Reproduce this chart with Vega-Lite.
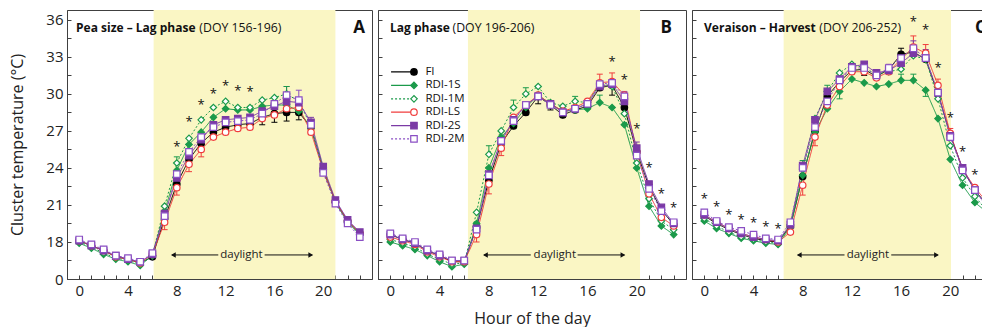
{
"$schema":"https://vega.github.io/schema/vega-lite/v6.json",
"padding":{"left":9,"top":9,"right":0,"bottom":0},
"spacing":4,
"config":{"font":"Open Sans","legend":{"disable":true},"view":{"stroke":"#404040","strokeWidth":1},
"axis":{"domainColor":"#404040","tickColor":"#404040","labelColor":"#222","titleColor":"#222","labelFontSize":15,"titleFontSize":16,"titleFontWeight":"normal","grid":false,"labelFont":"Open Sans","titleFont":"Open Sans","labelOverlap":false,"labelFlush":false}},
"datasets":{
"temps":[
{"p":"A","h":0,"s":"FI","t":18.1},{"p":"A","h":0,"s":"RDI-1S","t":17.9},{"p":"A","h":0,"s":"RDI-1M","t":18.0},{"p":"A","h":0,"s":"RDI-LS","t":18.1},{"p":"A","h":0,"s":"RDI-2S","t":18.1},{"p":"A","h":0,"s":"RDI-2M","t":18.2},
{"p":"A","h":1,"s":"FI","t":17.7},{"p":"A","h":1,"s":"RDI-1S","t":17.5},{"p":"A","h":1,"s":"RDI-1M","t":17.6},{"p":"A","h":1,"s":"RDI-LS","t":17.7},{"p":"A","h":1,"s":"RDI-2S","t":17.7},{"p":"A","h":1,"s":"RDI-2M","t":17.8},
{"p":"A","h":2,"s":"FI","t":17.3},{"p":"A","h":2,"s":"RDI-1S","t":17.0},{"p":"A","h":2,"s":"RDI-1M","t":17.1},{"p":"A","h":2,"s":"RDI-LS","t":17.3},{"p":"A","h":2,"s":"RDI-2S","t":17.3},{"p":"A","h":2,"s":"RDI-2M","t":17.4},
{"p":"A","h":3,"s":"FI","t":16.8},{"p":"A","h":3,"s":"RDI-1S","t":16.6},{"p":"A","h":3,"s":"RDI-1M","t":16.7},{"p":"A","h":3,"s":"RDI-LS","t":16.8},{"p":"A","h":3,"s":"RDI-2S","t":16.9},{"p":"A","h":3,"s":"RDI-2M","t":16.9},
{"p":"A","h":4,"s":"FI","t":16.6},{"p":"A","h":4,"s":"RDI-1S","t":16.4},{"p":"A","h":4,"s":"RDI-1M","t":16.5},{"p":"A","h":4,"s":"RDI-LS","t":16.6},{"p":"A","h":4,"s":"RDI-2S","t":16.6},{"p":"A","h":4,"s":"RDI-2M","t":16.7},
{"p":"A","h":5,"s":"FI","t":16.3},{"p":"A","h":5,"s":"RDI-1S","t":16.1},{"p":"A","h":5,"s":"RDI-1M","t":16.2},{"p":"A","h":5,"s":"RDI-LS","t":16.3},{"p":"A","h":5,"s":"RDI-2S","t":16.4},{"p":"A","h":5,"s":"RDI-2M","t":16.4},
{"p":"A","h":6,"s":"FI","t":16.8},{"p":"A","h":6,"s":"RDI-1S","t":16.9},{"p":"A","h":6,"s":"RDI-1M","t":16.9},{"p":"A","h":6,"s":"RDI-LS","t":17.0},{"p":"A","h":6,"s":"RDI-2S","t":17.0},{"p":"A","h":6,"s":"RDI-2M","t":17.1},
{"p":"A","h":7,"s":"FI","t":19.9},{"p":"A","h":7,"s":"RDI-1S","t":20.5},{"p":"A","h":7,"s":"RDI-1M","t":20.9},{"p":"A","h":7,"s":"RDI-LS","t":19.6},{"p":"A","h":7,"s":"RDI-2S","t":20.3},{"p":"A","h":7,"s":"RDI-2M","t":20.1},
{"p":"A","h":8,"s":"FI","t":22.7},{"p":"A","h":8,"s":"RDI-1S","t":23.8},{"p":"A","h":8,"s":"RDI-1M","t":24.4},{"p":"A","h":8,"s":"RDI-LS","t":22.4},{"p":"A","h":8,"s":"RDI-2S","t":23.2},{"p":"A","h":8,"s":"RDI-2M","t":23.5},
{"p":"A","h":9,"s":"FI","t":24.7},{"p":"A","h":9,"s":"RDI-1S","t":25.9},{"p":"A","h":9,"s":"RDI-1M","t":26.4},{"p":"A","h":9,"s":"RDI-LS","t":24.3},{"p":"A","h":9,"s":"RDI-2S","t":25.0},{"p":"A","h":9,"s":"RDI-2M","t":25.3},
{"p":"A","h":10,"s":"FI","t":26.0},{"p":"A","h":10,"s":"RDI-1S","t":26.9},{"p":"A","h":10,"s":"RDI-1M","t":27.9},{"p":"A","h":10,"s":"RDI-LS","t":25.5},{"p":"A","h":10,"s":"RDI-2S","t":26.3},{"p":"A","h":10,"s":"RDI-2M","t":26.5},
{"p":"A","h":11,"s":"FI","t":26.9},{"p":"A","h":11,"s":"RDI-1S","t":28.1},{"p":"A","h":11,"s":"RDI-1M","t":28.9},{"p":"A","h":11,"s":"RDI-LS","t":26.5},{"p":"A","h":11,"s":"RDI-2S","t":27.5},{"p":"A","h":11,"s":"RDI-2M","t":27.3},
{"p":"A","h":12,"s":"FI","t":27.3},{"p":"A","h":12,"s":"RDI-1S","t":28.8},{"p":"A","h":12,"s":"RDI-1M","t":29.4},{"p":"A","h":12,"s":"RDI-LS","t":26.9},{"p":"A","h":12,"s":"RDI-2S","t":27.9},{"p":"A","h":12,"s":"RDI-2M","t":27.7},
{"p":"A","h":13,"s":"FI","t":27.5},{"p":"A","h":13,"s":"RDI-1S","t":28.7},{"p":"A","h":13,"s":"RDI-1M","t":28.9},{"p":"A","h":13,"s":"RDI-LS","t":27.2},{"p":"A","h":13,"s":"RDI-2S","t":28.0},{"p":"A","h":13,"s":"RDI-2M","t":27.8},
{"p":"A","h":14,"s":"FI","t":27.6},{"p":"A","h":14,"s":"RDI-1S","t":28.7},{"p":"A","h":14,"s":"RDI-1M","t":28.9},{"p":"A","h":14,"s":"RDI-LS","t":27.3},{"p":"A","h":14,"s":"RDI-2S","t":28.1},{"p":"A","h":14,"s":"RDI-2M","t":27.9},
{"p":"A","h":15,"s":"FI","t":28.1},{"p":"A","h":15,"s":"RDI-1S","t":29.0},{"p":"A","h":15,"s":"RDI-1M","t":29.5},{"p":"A","h":15,"s":"RDI-LS","t":28.0},{"p":"A","h":15,"s":"RDI-2S","t":28.6},{"p":"A","h":15,"s":"RDI-2M","t":28.4},
{"p":"A","h":16,"s":"FI","t":28.4},{"p":"A","h":16,"s":"RDI-1S","t":29.1},{"p":"A","h":16,"s":"RDI-1M","t":29.7},{"p":"A","h":16,"s":"RDI-LS","t":28.3},{"p":"A","h":16,"s":"RDI-2S","t":29.0},{"p":"A","h":16,"s":"RDI-2M","t":29.2},
{"p":"A","h":17,"s":"FI","t":28.5},{"p":"A","h":17,"s":"RDI-1S","t":29.1},{"p":"A","h":17,"s":"RDI-1M","t":30.0},{"p":"A","h":17,"s":"RDI-LS","t":28.8},{"p":"A","h":17,"s":"RDI-2S","t":29.4},{"p":"A","h":17,"s":"RDI-2M","t":29.9},
{"p":"A","h":18,"s":"FI","t":28.5},{"p":"A","h":18,"s":"RDI-1S","t":28.6},{"p":"A","h":18,"s":"RDI-1M","t":29.4},{"p":"A","h":18,"s":"RDI-LS","t":28.9},{"p":"A","h":18,"s":"RDI-2S","t":29.3},{"p":"A","h":18,"s":"RDI-2M","t":29.5},
{"p":"A","h":19,"s":"FI","t":27.3},{"p":"A","h":19,"s":"RDI-1S","t":27.3},{"p":"A","h":19,"s":"RDI-1M","t":27.4},{"p":"A","h":19,"s":"RDI-LS","t":26.9},{"p":"A","h":19,"s":"RDI-2S","t":27.7},{"p":"A","h":19,"s":"RDI-2M","t":27.5},
{"p":"A","h":20,"s":"FI","t":23.8},{"p":"A","h":20,"s":"RDI-1S","t":23.9},{"p":"A","h":20,"s":"RDI-1M","t":24.0},{"p":"A","h":20,"s":"RDI-LS","t":23.8},{"p":"A","h":20,"s":"RDI-2S","t":24.1},{"p":"A","h":20,"s":"RDI-2M","t":23.6},
{"p":"A","h":21,"s":"FI","t":21.3},{"p":"A","h":21,"s":"RDI-1S","t":21.2},{"p":"A","h":21,"s":"RDI-1M","t":21.2},{"p":"A","h":21,"s":"RDI-LS","t":21.3},{"p":"A","h":21,"s":"RDI-2S","t":21.4},{"p":"A","h":21,"s":"RDI-2M","t":21.1},
{"p":"A","h":22,"s":"FI","t":19.7},{"p":"A","h":22,"s":"RDI-1S","t":19.6},{"p":"A","h":22,"s":"RDI-1M","t":19.7},{"p":"A","h":22,"s":"RDI-LS","t":19.7},{"p":"A","h":22,"s":"RDI-2S","t":19.8},{"p":"A","h":22,"s":"RDI-2M","t":19.5},
{"p":"A","h":23,"s":"FI","t":18.7},{"p":"A","h":23,"s":"RDI-1S","t":18.6},{"p":"A","h":23,"s":"RDI-1M","t":18.6},{"p":"A","h":23,"s":"RDI-LS","t":18.7},{"p":"A","h":23,"s":"RDI-2S","t":18.8},{"p":"A","h":23,"s":"RDI-2M","t":18.4},
{"p":"B","h":0,"s":"FI","t":18.6},{"p":"B","h":0,"s":"RDI-1S","t":18.0},{"p":"B","h":0,"s":"RDI-1M","t":18.2},{"p":"B","h":0,"s":"RDI-LS","t":18.4},{"p":"B","h":0,"s":"RDI-2S","t":18.6},{"p":"B","h":0,"s":"RDI-2M","t":18.7},
{"p":"B","h":1,"s":"FI","t":18.2},{"p":"B","h":1,"s":"RDI-1S","t":17.7},{"p":"B","h":1,"s":"RDI-1M","t":17.9},{"p":"B","h":1,"s":"RDI-LS","t":18.1},{"p":"B","h":1,"s":"RDI-2S","t":18.2},{"p":"B","h":1,"s":"RDI-2M","t":18.3},
{"p":"B","h":2,"s":"FI","t":17.9},{"p":"B","h":2,"s":"RDI-1S","t":17.4},{"p":"B","h":2,"s":"RDI-1M","t":17.6},{"p":"B","h":2,"s":"RDI-LS","t":17.8},{"p":"B","h":2,"s":"RDI-2S","t":17.9},{"p":"B","h":2,"s":"RDI-2M","t":18.0},
{"p":"B","h":3,"s":"FI","t":17.3},{"p":"B","h":3,"s":"RDI-1S","t":16.9},{"p":"B","h":3,"s":"RDI-1M","t":17.0},{"p":"B","h":3,"s":"RDI-LS","t":17.2},{"p":"B","h":3,"s":"RDI-2S","t":17.3},{"p":"B","h":3,"s":"RDI-2M","t":17.4},
{"p":"B","h":4,"s":"FI","t":16.9},{"p":"B","h":4,"s":"RDI-1S","t":16.4},{"p":"B","h":4,"s":"RDI-1M","t":16.6},{"p":"B","h":4,"s":"RDI-LS","t":16.8},{"p":"B","h":4,"s":"RDI-2S","t":16.9},{"p":"B","h":4,"s":"RDI-2M","t":17.0},
{"p":"B","h":5,"s":"FI","t":16.4},{"p":"B","h":5,"s":"RDI-1S","t":16.0},{"p":"B","h":5,"s":"RDI-1M","t":16.2},{"p":"B","h":5,"s":"RDI-LS","t":16.4},{"p":"B","h":5,"s":"RDI-2S","t":16.5},{"p":"B","h":5,"s":"RDI-2M","t":16.5},
{"p":"B","h":6,"s":"FI","t":16.4},{"p":"B","h":6,"s":"RDI-1S","t":16.2},{"p":"B","h":6,"s":"RDI-1M","t":16.3},{"p":"B","h":6,"s":"RDI-LS","t":16.4},{"p":"B","h":6,"s":"RDI-2S","t":16.5},{"p":"B","h":6,"s":"RDI-2M","t":16.5},
{"p":"B","h":7,"s":"FI","t":19.2},{"p":"B","h":7,"s":"RDI-1S","t":19.5},{"p":"B","h":7,"s":"RDI-1M","t":20.4},{"p":"B","h":7,"s":"RDI-LS","t":18.6},{"p":"B","h":7,"s":"RDI-2S","t":19.1},{"p":"B","h":7,"s":"RDI-2M","t":19.0},
{"p":"B","h":8,"s":"FI","t":23.0},{"p":"B","h":8,"s":"RDI-1S","t":24.0},{"p":"B","h":8,"s":"RDI-1M","t":25.1},{"p":"B","h":8,"s":"RDI-LS","t":22.7},{"p":"B","h":8,"s":"RDI-2S","t":23.5},{"p":"B","h":8,"s":"RDI-2M","t":23.4},
{"p":"B","h":9,"s":"FI","t":26.0},{"p":"B","h":9,"s":"RDI-1S","t":26.5},{"p":"B","h":9,"s":"RDI-1M","t":27.0},{"p":"B","h":9,"s":"RDI-LS","t":25.6},{"p":"B","h":9,"s":"RDI-2S","t":26.2},{"p":"B","h":9,"s":"RDI-2M","t":26.2},
{"p":"B","h":10,"s":"FI","t":27.4},{"p":"B","h":10,"s":"RDI-1S","t":27.6},{"p":"B","h":10,"s":"RDI-1M","t":28.9},{"p":"B","h":10,"s":"RDI-LS","t":28.1},{"p":"B","h":10,"s":"RDI-2S","t":27.9},{"p":"B","h":10,"s":"RDI-2M","t":27.8},
{"p":"B","h":11,"s":"FI","t":28.5},{"p":"B","h":11,"s":"RDI-1S","t":28.9},{"p":"B","h":11,"s":"RDI-1M","t":30.0},{"p":"B","h":11,"s":"RDI-LS","t":29.1},{"p":"B","h":11,"s":"RDI-2S","t":29.1},{"p":"B","h":11,"s":"RDI-2M","t":29.1},
{"p":"B","h":12,"s":"FI","t":29.8},{"p":"B","h":12,"s":"RDI-1S","t":29.9},{"p":"B","h":12,"s":"RDI-1M","t":30.6},{"p":"B","h":12,"s":"RDI-LS","t":29.9},{"p":"B","h":12,"s":"RDI-2S","t":29.8},{"p":"B","h":12,"s":"RDI-2M","t":29.8},
{"p":"B","h":13,"s":"FI","t":29.1},{"p":"B","h":13,"s":"RDI-1S","t":29.2},{"p":"B","h":13,"s":"RDI-1M","t":29.3},{"p":"B","h":13,"s":"RDI-LS","t":29.2},{"p":"B","h":13,"s":"RDI-2S","t":29.2},{"p":"B","h":13,"s":"RDI-2M","t":29.1},
{"p":"B","h":14,"s":"FI","t":28.3},{"p":"B","h":14,"s":"RDI-1S","t":28.6},{"p":"B","h":14,"s":"RDI-1M","t":29.0},{"p":"B","h":14,"s":"RDI-LS","t":28.6},{"p":"B","h":14,"s":"RDI-2S","t":28.5},{"p":"B","h":14,"s":"RDI-2M","t":28.5},
{"p":"B","h":15,"s":"FI","t":28.7},{"p":"B","h":15,"s":"RDI-1S","t":28.7},{"p":"B","h":15,"s":"RDI-1M","t":29.4},{"p":"B","h":15,"s":"RDI-LS","t":28.9},{"p":"B","h":15,"s":"RDI-2S","t":28.8},{"p":"B","h":15,"s":"RDI-2M","t":28.8},
{"p":"B","h":16,"s":"FI","t":29.0},{"p":"B","h":16,"s":"RDI-1S","t":28.8},{"p":"B","h":16,"s":"RDI-1M","t":29.3},{"p":"B","h":16,"s":"RDI-LS","t":29.4},{"p":"B","h":16,"s":"RDI-2S","t":29.2},{"p":"B","h":16,"s":"RDI-2M","t":29.2},
{"p":"B","h":17,"s":"FI","t":30.5},{"p":"B","h":17,"s":"RDI-1S","t":29.3},{"p":"B","h":17,"s":"RDI-1M","t":30.8},{"p":"B","h":17,"s":"RDI-LS","t":30.9},{"p":"B","h":17,"s":"RDI-2S","t":30.6},{"p":"B","h":17,"s":"RDI-2M","t":30.8},
{"p":"B","h":18,"s":"FI","t":30.7},{"p":"B","h":18,"s":"RDI-1S","t":28.9},{"p":"B","h":18,"s":"RDI-1M","t":30.6},{"p":"B","h":18,"s":"RDI-LS","t":31.0},{"p":"B","h":18,"s":"RDI-2S","t":30.8},{"p":"B","h":18,"s":"RDI-2M","t":30.9},
{"p":"B","h":19,"s":"FI","t":28.9},{"p":"B","h":19,"s":"RDI-1S","t":27.5},{"p":"B","h":19,"s":"RDI-1M","t":28.4},{"p":"B","h":19,"s":"RDI-LS","t":29.9},{"p":"B","h":19,"s":"RDI-2S","t":29.4},{"p":"B","h":19,"s":"RDI-2M","t":29.8},
{"p":"B","h":20,"s":"FI","t":25.3},{"p":"B","h":20,"s":"RDI-1S","t":24.0},{"p":"B","h":20,"s":"RDI-1M","t":24.4},{"p":"B","h":20,"s":"RDI-LS","t":25.3},{"p":"B","h":20,"s":"RDI-2S","t":25.6},{"p":"B","h":20,"s":"RDI-2M","t":25.0},
{"p":"B","h":21,"s":"FI","t":22.5},{"p":"B","h":21,"s":"RDI-1S","t":20.9},{"p":"B","h":21,"s":"RDI-1M","t":21.5},{"p":"B","h":21,"s":"RDI-LS","t":21.9},{"p":"B","h":21,"s":"RDI-2S","t":22.7},{"p":"B","h":21,"s":"RDI-2M","t":22.3},
{"p":"B","h":22,"s":"FI","t":20.6},{"p":"B","h":22,"s":"RDI-1S","t":19.3},{"p":"B","h":22,"s":"RDI-1M","t":19.7},{"p":"B","h":22,"s":"RDI-LS","t":20.0},{"p":"B","h":22,"s":"RDI-2S","t":20.8},{"p":"B","h":22,"s":"RDI-2M","t":20.5},
{"p":"B","h":23,"s":"FI","t":19.4},{"p":"B","h":23,"s":"RDI-1S","t":18.6},{"p":"B","h":23,"s":"RDI-1M","t":19.0},{"p":"B","h":23,"s":"RDI-LS","t":19.3},{"p":"B","h":23,"s":"RDI-2S","t":19.5},{"p":"B","h":23,"s":"RDI-2M","t":19.6},
{"p":"C","h":0,"s":"FI","t":20.1},{"p":"C","h":0,"s":"RDI-1S","t":19.7},{"p":"C","h":0,"s":"RDI-1M","t":19.9},{"p":"C","h":0,"s":"RDI-LS","t":20.2},{"p":"C","h":0,"s":"RDI-2S","t":20.2},{"p":"C","h":0,"s":"RDI-2M","t":20.4},
{"p":"C","h":1,"s":"FI","t":19.5},{"p":"C","h":1,"s":"RDI-1S","t":19.1},{"p":"C","h":1,"s":"RDI-1M","t":19.3},{"p":"C","h":1,"s":"RDI-LS","t":19.6},{"p":"C","h":1,"s":"RDI-2S","t":19.6},{"p":"C","h":1,"s":"RDI-2M","t":19.7},
{"p":"C","h":2,"s":"FI","t":19.0},{"p":"C","h":2,"s":"RDI-1S","t":18.7},{"p":"C","h":2,"s":"RDI-1M","t":18.8},{"p":"C","h":2,"s":"RDI-LS","t":19.1},{"p":"C","h":2,"s":"RDI-2S","t":19.1},{"p":"C","h":2,"s":"RDI-2M","t":19.2},
{"p":"C","h":3,"s":"FI","t":18.6},{"p":"C","h":3,"s":"RDI-1S","t":18.3},{"p":"C","h":3,"s":"RDI-1M","t":18.4},{"p":"C","h":3,"s":"RDI-LS","t":18.7},{"p":"C","h":3,"s":"RDI-2S","t":18.7},{"p":"C","h":3,"s":"RDI-2M","t":18.9},
{"p":"C","h":4,"s":"FI","t":18.3},{"p":"C","h":4,"s":"RDI-1S","t":18.1},{"p":"C","h":4,"s":"RDI-1M","t":18.2},{"p":"C","h":4,"s":"RDI-LS","t":18.4},{"p":"C","h":4,"s":"RDI-2S","t":18.4},{"p":"C","h":4,"s":"RDI-2M","t":18.6},
{"p":"C","h":5,"s":"FI","t":18.1},{"p":"C","h":5,"s":"RDI-1S","t":17.9},{"p":"C","h":5,"s":"RDI-1M","t":18.0},{"p":"C","h":5,"s":"RDI-LS","t":18.2},{"p":"C","h":5,"s":"RDI-2S","t":18.2},{"p":"C","h":5,"s":"RDI-2M","t":18.3},
{"p":"C","h":6,"s":"FI","t":18.0},{"p":"C","h":6,"s":"RDI-1S","t":17.8},{"p":"C","h":6,"s":"RDI-1M","t":17.9},{"p":"C","h":6,"s":"RDI-LS","t":18.0},{"p":"C","h":6,"s":"RDI-2S","t":18.1},{"p":"C","h":6,"s":"RDI-2M","t":18.2},
{"p":"C","h":7,"s":"FI","t":19.3},{"p":"C","h":7,"s":"RDI-1S","t":19.2},{"p":"C","h":7,"s":"RDI-1M","t":19.4},{"p":"C","h":7,"s":"RDI-LS","t":18.8},{"p":"C","h":7,"s":"RDI-2S","t":19.4},{"p":"C","h":7,"s":"RDI-2M","t":19.6},
{"p":"C","h":8,"s":"FI","t":23.3},{"p":"C","h":8,"s":"RDI-1S","t":23.4},{"p":"C","h":8,"s":"RDI-1M","t":23.9},{"p":"C","h":8,"s":"RDI-LS","t":22.6},{"p":"C","h":8,"s":"RDI-2S","t":24.2},{"p":"C","h":8,"s":"RDI-2M","t":24.0},
{"p":"C","h":9,"s":"FI","t":27.0},{"p":"C","h":9,"s":"RDI-1S","t":26.9},{"p":"C","h":9,"s":"RDI-1M","t":28.0},{"p":"C","h":9,"s":"RDI-LS","t":26.5},{"p":"C","h":9,"s":"RDI-2S","t":27.9},{"p":"C","h":9,"s":"RDI-2M","t":27.3},
{"p":"C","h":10,"s":"FI","t":29.8},{"p":"C","h":10,"s":"RDI-1S","t":28.8},{"p":"C","h":10,"s":"RDI-1M","t":30.2},{"p":"C","h":10,"s":"RDI-LS","t":29.1},{"p":"C","h":10,"s":"RDI-2S","t":30.2},{"p":"C","h":10,"s":"RDI-2M","t":29.4},
{"p":"C","h":11,"s":"FI","t":31.0},{"p":"C","h":11,"s":"RDI-1S","t":30.2},{"p":"C","h":11,"s":"RDI-1M","t":31.7},{"p":"C","h":11,"s":"RDI-LS","t":30.6},{"p":"C","h":11,"s":"RDI-2S","t":31.2},{"p":"C","h":11,"s":"RDI-2M","t":31.1},
{"p":"C","h":12,"s":"FI","t":31.9},{"p":"C","h":12,"s":"RDI-1S","t":31.2},{"p":"C","h":12,"s":"RDI-1M","t":32.4},{"p":"C","h":12,"s":"RDI-LS","t":31.8},{"p":"C","h":12,"s":"RDI-2S","t":32.2},{"p":"C","h":12,"s":"RDI-2M","t":32.1},
{"p":"C","h":13,"s":"FI","t":32.0},{"p":"C","h":13,"s":"RDI-1S","t":30.9},{"p":"C","h":13,"s":"RDI-1M","t":32.1},{"p":"C","h":13,"s":"RDI-LS","t":31.8},{"p":"C","h":13,"s":"RDI-2S","t":32.4},{"p":"C","h":13,"s":"RDI-2M","t":32.1},
{"p":"C","h":14,"s":"FI","t":31.4},{"p":"C","h":14,"s":"RDI-1S","t":30.6},{"p":"C","h":14,"s":"RDI-1M","t":31.6},{"p":"C","h":14,"s":"RDI-LS","t":31.3},{"p":"C","h":14,"s":"RDI-2S","t":31.7},{"p":"C","h":14,"s":"RDI-2M","t":31.5},
{"p":"C","h":15,"s":"FI","t":32.0},{"p":"C","h":15,"s":"RDI-1S","t":30.8},{"p":"C","h":15,"s":"RDI-1M","t":31.8},{"p":"C","h":15,"s":"RDI-LS","t":31.8},{"p":"C","h":15,"s":"RDI-2S","t":31.9},{"p":"C","h":15,"s":"RDI-2M","t":32.1},
{"p":"C","h":16,"s":"FI","t":33.2},{"p":"C","h":16,"s":"RDI-1S","t":31.1},{"p":"C","h":16,"s":"RDI-1M","t":32.0},{"p":"C","h":16,"s":"RDI-LS","t":32.8},{"p":"C","h":16,"s":"RDI-2S","t":32.5},{"p":"C","h":16,"s":"RDI-2M","t":32.9},
{"p":"C","h":17,"s":"FI","t":33.4},{"p":"C","h":17,"s":"RDI-1S","t":31.1},{"p":"C","h":17,"s":"RDI-1M","t":33.1},{"p":"C","h":17,"s":"RDI-LS","t":33.8},{"p":"C","h":17,"s":"RDI-2S","t":33.3},{"p":"C","h":17,"s":"RDI-2M","t":33.7},
{"p":"C","h":18,"s":"FI","t":32.8},{"p":"C","h":18,"s":"RDI-1S","t":30.3},{"p":"C","h":18,"s":"RDI-1M","t":32.8},{"p":"C","h":18,"s":"RDI-LS","t":33.3},{"p":"C","h":18,"s":"RDI-2S","t":32.9},{"p":"C","h":18,"s":"RDI-2M","t":32.9},
{"p":"C","h":19,"s":"FI","t":30.0},{"p":"C","h":19,"s":"RDI-1S","t":28.0},{"p":"C","h":19,"s":"RDI-1M","t":29.6},{"p":"C","h":19,"s":"RDI-LS","t":30.7},{"p":"C","h":19,"s":"RDI-2S","t":30.1},{"p":"C","h":19,"s":"RDI-2M","t":30.1},
{"p":"C","h":20,"s":"FI","t":26.7},{"p":"C","h":20,"s":"RDI-1S","t":24.7},{"p":"C","h":20,"s":"RDI-1M","t":25.8},{"p":"C","h":20,"s":"RDI-LS","t":26.8},{"p":"C","h":20,"s":"RDI-2S","t":26.6},{"p":"C","h":20,"s":"RDI-2M","t":26.5},
{"p":"C","h":21,"s":"FI","t":23.9},{"p":"C","h":21,"s":"RDI-1S","t":22.6},{"p":"C","h":21,"s":"RDI-1M","t":23.2},{"p":"C","h":21,"s":"RDI-LS","t":23.9},{"p":"C","h":21,"s":"RDI-2S","t":24.0},{"p":"C","h":21,"s":"RDI-2M","t":23.8},
{"p":"C","h":22,"s":"FI","t":22.2},{"p":"C","h":22,"s":"RDI-1S","t":21.2},{"p":"C","h":22,"s":"RDI-1M","t":21.7},{"p":"C","h":22,"s":"RDI-LS","t":22.4},{"p":"C","h":22,"s":"RDI-2S","t":22.2},{"p":"C","h":22,"s":"RDI-2M","t":22.2},
{"p":"C","h":23,"s":"FI","t":21.0},{"p":"C","h":23,"s":"RDI-1S","t":20.4},{"p":"C","h":23,"s":"RDI-1M","t":20.5},{"p":"C","h":23,"s":"RDI-LS","t":21.2},{"p":"C","h":23,"s":"RDI-2S","t":20.9},{"p":"C","h":23,"s":"RDI-2M","t":20.8}
],
"err":[
{"p":"A","h":7,"s":"RDI-LS","t":19.6,"e":19.0},{"p":"A","h":8,"s":"RDI-LS","t":22.4,"e":21.8},{"p":"A","h":9,"s":"RDI-LS","t":24.3,"e":23.7},{"p":"A","h":10,"s":"RDI-LS","t":25.5,"e":24.9},{"p":"A","h":8,"s":"RDI-1M","t":24.4,"e":24.9},{"p":"A","h":15,"s":"FI","t":28.1,"e":27.5},{"p":"A","h":16,"s":"FI","t":28.4,"e":27.7},{"p":"A","h":17,"s":"FI","t":28.5,"e":27.8},{"p":"A","h":18,"s":"FI","t":28.5,"e":27.9},{"p":"A","h":17,"s":"RDI-2M","t":29.9,"e":30.6},{"p":"A","h":18,"s":"RDI-2M","t":29.5,"e":30.3},{"p":"A","h":17,"s":"RDI-1M","t":30.0,"e":30.6},{"p":"A","h":19,"s":"RDI-2S","t":27.7,"e":28.1},
{"p":"B","h":8,"s":"RDI-1M","t":25.1,"e":25.8},{"p":"B","h":10,"s":"RDI-1M","t":28.9,"e":29.5},{"p":"B","h":11,"s":"RDI-1M","t":30.0,"e":30.5},{"p":"B","h":7,"s":"RDI-LS","t":18.6,"e":18.0},{"p":"B","h":8,"s":"RDI-LS","t":22.7,"e":21.9},{"p":"B","h":9,"s":"RDI-LS","t":25.6,"e":25.0},{"p":"B","h":12,"s":"FI","t":29.8,"e":29.2},{"p":"B","h":13,"s":"FI","t":29.1,"e":28.7},{"p":"B","h":17,"s":"RDI-1S","t":29.3,"e":29.9},{"p":"B","h":17,"s":"RDI-LS","t":30.9,"e":31.6},{"p":"B","h":18,"s":"RDI-LS","t":31.0,"e":31.7},{"p":"B","h":18,"s":"FI","t":30.7,"e":29.9},{"p":"B","h":15,"s":"RDI-1M","t":29.4,"e":29.8},{"p":"B","h":19,"s":"RDI-2M","t":29.8,"e":30.2},{"p":"B","h":20,"s":"RDI-2S","t":25.6,"e":26.1},{"p":"B","h":21,"s":"RDI-2M","t":22.3,"e":22.7},
{"p":"C","h":8,"s":"RDI-1M","t":23.9,"e":24.6},{"p":"C","h":8,"s":"RDI-LS","t":22.6,"e":21.8},{"p":"C","h":9,"s":"RDI-LS","t":26.5,"e":25.8},{"p":"C","h":10,"s":"RDI-1M","t":30.2,"e":30.7},{"p":"C","h":11,"s":"RDI-1S","t":30.2,"e":29.6},{"p":"C","h":13,"s":"FI","t":32.0,"e":31.5},{"p":"C","h":15,"s":"RDI-2S","t":31.9,"e":32.4},{"p":"C","h":16,"s":"RDI-1S","t":31.1,"e":31.6},{"p":"C","h":17,"s":"RDI-1S","t":31.1,"e":31.6},{"p":"C","h":18,"s":"RDI-1S","t":30.3,"e":29.8},{"p":"C","h":17,"s":"RDI-LS","t":33.8,"e":34.7},{"p":"C","h":17,"s":"RDI-2S","t":33.3,"e":34.3},{"p":"C","h":18,"s":"RDI-LS","t":33.3,"e":34.0},{"p":"C","h":18,"s":"RDI-2S","t":32.9,"e":33.6},{"p":"C","h":16,"s":"FI","t":33.2,"e":33.7},{"p":"C","h":19,"s":"RDI-LS","t":30.7,"e":31.2},{"p":"C","h":20,"s":"RDI-LS","t":26.8,"e":27.2}
],
"stars":[
{"p":"A","h":8,"t":26.0},{"p":"A","h":9,"t":28.0},{"p":"A","h":10,"t":29.4},{"p":"A","h":11,"t":30.3},{"p":"A","h":12,"t":30.9},{"p":"A","h":13,"t":30.5},{"p":"A","h":14,"t":30.4},
{"p":"B","h":18,"t":32.9},{"p":"B","h":19,"t":31.4},{"p":"B","h":20,"t":27.4},{"p":"B","h":21,"t":24.3},{"p":"B","h":22,"t":22.2},{"p":"B","h":23,"t":21.0},
{"p":"C","h":0,"t":21.8},{"p":"C","h":1,"t":21.1},{"p":"C","h":2,"t":20.5},{"p":"C","h":3,"t":20.1},{"p":"C","h":4,"t":19.8},{"p":"C","h":5,"t":19.5},{"p":"C","h":6,"t":19.3},{"p":"C","h":17,"t":36.1},{"p":"C","h":18,"t":35.5},{"p":"C","h":19,"t":32.4},{"p":"C","h":20,"t":28.3},{"p":"C","h":21,"t":25.6},{"p":"C","h":22,"t":23.7},{"p":"C","h":23,"t":22.5}
]
},
"hconcat":[
{
"width":305,"height":269,
"layer":[
{"data":{"values":[{}]},"mark":{"type":"rect","color":"#faf6c4"},"encoding":{"x":{"datum":6.1,"type":"quantitative","scale":{"domain":[-1,24],"nice":false,"zero":false},"axis":{"title":null,"values":[0,1,2,3,4,5,6,7,8,9,10,11,12,13,14,15,16,17,18,19,20,21,22,23],"labelExpr":"datum.value % 4 === 0 ? datum.label : ''","tickSize":-4,"labelPadding":8,"labelOverlap":false}},"x2":{"datum":21.0},"y":{"datum":15,"type":"quantitative","scale":{"domain":[15,36.8],"nice":false,"zero":false},"axis":{"title":"Cluster temperature (°C)","values":[15,16.5,18,19.5,21,22.5,24,25.5,27,28.5,30,31.5,33,34.5,36],"labelExpr":"datum.value === 15 ? '0' : (datum.value % 3 === 0 ? datum.label : '')","tickSize":-4,"labelPadding":8,"titlePadding":20,"labelOverlap":false}},"y2":{"datum":36.8}}},
{"data":{"values":[{}]},"mark":{"type":"rule","color":"#111","strokeWidth":1},"encoding":{"x":{"datum":7.6,"type":"quantitative","scale":{"domain":[-1,24],"nice":false,"zero":false},"axis":{"title":null,"values":[0,1,2,3,4,5,6,7,8,9,10,11,12,13,14,15,16,17,18,19,20,21,22,23],"labelExpr":"datum.value % 4 === 0 ? datum.label : ''","tickSize":-4,"labelPadding":8,"labelOverlap":false}},"x2":{"datum":11.4},"y":{"datum":16.95,"type":"quantitative","scale":{"domain":[15,36.8],"nice":false,"zero":false},"axis":{"title":"Cluster temperature (°C)","values":[15,16.5,18,19.5,21,22.5,24,25.5,27,28.5,30,31.5,33,34.5,36],"labelExpr":"datum.value === 15 ? '0' : (datum.value % 3 === 0 ? datum.label : '')","tickSize":-4,"labelPadding":8,"titlePadding":20,"labelOverlap":false}}}},
{"data":{"values":[{}]},"mark":{"type":"rule","color":"#111","strokeWidth":1},"encoding":{"x":{"datum":15.2,"type":"quantitative","scale":{"domain":[-1,24],"nice":false,"zero":false},"axis":{"title":null,"values":[0,1,2,3,4,5,6,7,8,9,10,11,12,13,14,15,16,17,18,19,20,21,22,23],"labelExpr":"datum.value % 4 === 0 ? datum.label : ''","tickSize":-4,"labelPadding":8,"labelOverlap":false}},"x2":{"datum":19.1},"y":{"datum":16.95,"type":"quantitative","scale":{"domain":[15,36.8],"nice":false,"zero":false},"axis":{"title":"Cluster temperature (°C)","values":[15,16.5,18,19.5,21,22.5,24,25.5,27,28.5,30,31.5,33,34.5,36],"labelExpr":"datum.value === 15 ? '0' : (datum.value % 3 === 0 ? datum.label : '')","tickSize":-4,"labelPadding":8,"titlePadding":20,"labelOverlap":false}}}},
{"data":{"values":[{}]},"mark":{"type":"point","shape":"triangle-left","filled":true,"color":"#111","size":30,"opacity":1},"encoding":{"x":{"datum":7.72,"type":"quantitative","scale":{"domain":[-1,24],"nice":false,"zero":false},"axis":{"title":null,"values":[0,1,2,3,4,5,6,7,8,9,10,11,12,13,14,15,16,17,18,19,20,21,22,23],"labelExpr":"datum.value % 4 === 0 ? datum.label : ''","tickSize":-4,"labelPadding":8,"labelOverlap":false}},"y":{"datum":16.95,"type":"quantitative","scale":{"domain":[15,36.8],"nice":false,"zero":false},"axis":{"title":"Cluster temperature (°C)","values":[15,16.5,18,19.5,21,22.5,24,25.5,27,28.5,30,31.5,33,34.5,36],"labelExpr":"datum.value === 15 ? '0' : (datum.value % 3 === 0 ? datum.label : '')","tickSize":-4,"labelPadding":8,"titlePadding":20,"labelOverlap":false}}}},
{"data":{"values":[{}]},"mark":{"type":"point","shape":"triangle-right","filled":true,"color":"#111","size":30,"opacity":1},"encoding":{"x":{"datum":18.98,"type":"quantitative","scale":{"domain":[-1,24],"nice":false,"zero":false},"axis":{"title":null,"values":[0,1,2,3,4,5,6,7,8,9,10,11,12,13,14,15,16,17,18,19,20,21,22,23],"labelExpr":"datum.value % 4 === 0 ? datum.label : ''","tickSize":-4,"labelPadding":8,"labelOverlap":false}},"y":{"datum":16.95,"type":"quantitative","scale":{"domain":[15,36.8],"nice":false,"zero":false},"axis":{"title":"Cluster temperature (°C)","values":[15,16.5,18,19.5,21,22.5,24,25.5,27,28.5,30,31.5,33,34.5,36],"labelExpr":"datum.value === 15 ? '0' : (datum.value % 3 === 0 ? datum.label : '')","tickSize":-4,"labelPadding":8,"titlePadding":20,"labelOverlap":false}}}},
{"data":{"values":[{}]},"mark":{"type":"text","text":"daylight","fontSize":11.5,"color":"#222","baseline":"middle"},"encoding":{"x":{"datum":13.3,"type":"quantitative","scale":{"domain":[-1,24],"nice":false,"zero":false},"axis":{"title":null,"values":[0,1,2,3,4,5,6,7,8,9,10,11,12,13,14,15,16,17,18,19,20,21,22,23],"labelExpr":"datum.value % 4 === 0 ? datum.label : ''","tickSize":-4,"labelPadding":8,"labelOverlap":false}},"y":{"datum":16.95,"type":"quantitative","scale":{"domain":[15,36.8],"nice":false,"zero":false},"axis":{"title":"Cluster temperature (°C)","values":[15,16.5,18,19.5,21,22.5,24,25.5,27,28.5,30,31.5,33,34.5,36],"labelExpr":"datum.value === 15 ? '0' : (datum.value % 3 === 0 ? datum.label : '')","tickSize":-4,"labelPadding":8,"titlePadding":20,"labelOverlap":false}}}},
{"data":{"name":"temps"},"transform":[{"filter":"datum.p === 'A'"}],"mark":{"type":"line","strokeWidth":1},
"encoding":{
"x":{"field":"h","type":"quantitative","scale":{"domain":[-1,24],"nice":false,"zero":false},"axis":{"title":null,"values":[0,1,2,3,4,5,6,7,8,9,10,11,12,13,14,15,16,17,18,19,20,21,22,23],"labelExpr":"datum.value % 4 === 0 ? datum.label : ''","tickSize":-4,"labelPadding":8,"labelOverlap":false}},
"y":{"field":"t","type":"quantitative","scale":{"domain":[15,36.8],"nice":false,"zero":false},"axis":{"title":"Cluster temperature (°C)","values":[15,16.5,18,19.5,21,22.5,24,25.5,27,28.5,30,31.5,33,34.5,36],"labelExpr":"datum.value === 15 ? '0' : (datum.value % 3 === 0 ? datum.label : '')","tickSize":-4,"labelPadding":8,"titlePadding":20,"labelOverlap":false}},
"color":{"field":"s","type":"nominal","scale":{"domain":["FI","RDI-1S","RDI-1M","RDI-LS","RDI-2S","RDI-2M"],"range":["#000000","#1b9a4a","#1b9a4a","#f03c3c","#7b3aa5","#8a4fc4"]}},
"strokeDash":{"field":"s","type":"nominal","scale":{"domain":["FI","RDI-1S","RDI-1M","RDI-LS","RDI-2S","RDI-2M"],"range":[[1,0],[1,0],[2,2],[1,0],[1,0],[2,2]]}}}},
{"data":{"name":"err"},"transform":[{"filter":"datum.p === 'A'"}],"mark":{"type":"rule","strokeWidth":1},"encoding":{
"x":{"field":"h","type":"quantitative","scale":{"domain":[-1,24],"nice":false,"zero":false},"axis":{"title":null,"values":[0,1,2,3,4,5,6,7,8,9,10,11,12,13,14,15,16,17,18,19,20,21,22,23],"labelExpr":"datum.value % 4 === 0 ? datum.label : ''","tickSize":-4,"labelPadding":8,"labelOverlap":false}},
"y":{"field":"t","type":"quantitative","scale":{"domain":[15,36.8],"nice":false,"zero":false},"axis":{"title":"Cluster temperature (°C)","values":[15,16.5,18,19.5,21,22.5,24,25.5,27,28.5,30,31.5,33,34.5,36],"labelExpr":"datum.value === 15 ? '0' : (datum.value % 3 === 0 ? datum.label : '')","tickSize":-4,"labelPadding":8,"titlePadding":20,"labelOverlap":false}},
"y2":{"field":"e"},"color":{"field":"s","type":"nominal","scale":{"domain":["FI","RDI-1S","RDI-1M","RDI-LS","RDI-2S","RDI-2M"],"range":["#000000","#1b9a4a","#1b9a4a","#f03c3c","#7b3aa5","#8a4fc4"]}}}},
{"data":{"name":"err"},"transform":[{"filter":"datum.p === 'A'"}],"mark":{"type":"tick","orient":"horizontal","size":6,"thickness":1,"opacity":1},"encoding":{
"x":{"field":"h","type":"quantitative","scale":{"domain":[-1,24],"nice":false,"zero":false},"axis":{"title":null,"values":[0,1,2,3,4,5,6,7,8,9,10,11,12,13,14,15,16,17,18,19,20,21,22,23],"labelExpr":"datum.value % 4 === 0 ? datum.label : ''","tickSize":-4,"labelPadding":8,"labelOverlap":false}},
"y":{"field":"e","type":"quantitative","scale":{"domain":[15,36.8],"nice":false,"zero":false},"axis":{"title":"Cluster temperature (°C)","values":[15,16.5,18,19.5,21,22.5,24,25.5,27,28.5,30,31.5,33,34.5,36],"labelExpr":"datum.value === 15 ? '0' : (datum.value % 3 === 0 ? datum.label : '')","tickSize":-4,"labelPadding":8,"titlePadding":20,"labelOverlap":false}},
"color":{"field":"s","type":"nominal","scale":{"domain":["FI","RDI-1S","RDI-1M","RDI-LS","RDI-2S","RDI-2M"],"range":["#000000","#1b9a4a","#1b9a4a","#f03c3c","#7b3aa5","#8a4fc4"]}}}},
{"data":{"name":"temps"},"transform":[{"filter":"datum.p === 'A'"}],"mark":{"type":"point","size":42,"strokeWidth":1.2,"opacity":1},
"encoding":{
"x":{"field":"h","type":"quantitative","scale":{"domain":[-1,24],"nice":false,"zero":false},"axis":{"title":null,"values":[0,1,2,3,4,5,6,7,8,9,10,11,12,13,14,15,16,17,18,19,20,21,22,23],"labelExpr":"datum.value % 4 === 0 ? datum.label : ''","tickSize":-4,"labelPadding":8,"labelOverlap":false}},
"y":{"field":"t","type":"quantitative","scale":{"domain":[15,36.8],"nice":false,"zero":false},"axis":{"title":"Cluster temperature (°C)","values":[15,16.5,18,19.5,21,22.5,24,25.5,27,28.5,30,31.5,33,34.5,36],"labelExpr":"datum.value === 15 ? '0' : (datum.value % 3 === 0 ? datum.label : '')","tickSize":-4,"labelPadding":8,"titlePadding":20,"labelOverlap":false}},
"shape":{"field":"s","type":"nominal","scale":{"domain":["FI","RDI-1S","RDI-1M","RDI-LS","RDI-2S","RDI-2M"],"range":["circle","diamond","diamond","circle","square","square"]}},
"fill":{"field":"s","type":"nominal","scale":{"domain":["FI","RDI-1S","RDI-1M","RDI-LS","RDI-2S","RDI-2M"],"range":["#000000","#1b9a4a","#ffffff","#ffffff","#7b3aa5","#ffffff"]}},
"stroke":{"field":"s","type":"nominal","scale":{"domain":["FI","RDI-1S","RDI-1M","RDI-LS","RDI-2S","RDI-2M"],"range":["#000000","#1b9a4a","#1b9a4a","#f03c3c","#7b3aa5","#8a4fc4"]}}}},
{"data":{"name":"stars"},"transform":[{"filter":"datum.p === 'A'"}],"mark":{"type":"text","text":"*","fontSize":13,"color":"#111","baseline":"middle","dy":3.5},"encoding":{
"x":{"field":"h","type":"quantitative","scale":{"domain":[-1,24],"nice":false,"zero":false},"axis":{"title":null,"values":[0,1,2,3,4,5,6,7,8,9,10,11,12,13,14,15,16,17,18,19,20,21,22,23],"labelExpr":"datum.value % 4 === 0 ? datum.label : ''","tickSize":-4,"labelPadding":8,"labelOverlap":false}},
"y":{"field":"t","type":"quantitative","scale":{"domain":[15,36.8],"nice":false,"zero":false},"axis":{"title":"Cluster temperature (°C)","values":[15,16.5,18,19.5,21,22.5,24,25.5,27,28.5,30,31.5,33,34.5,36],"labelExpr":"datum.value === 15 ? '0' : (datum.value % 3 === 0 ? datum.label : '')","tickSize":-4,"labelPadding":8,"titlePadding":20,"labelOverlap":false}}}},
{"data":{"values":[{}]},"mark":{"type":"text","text":"Pea size – Lag phase","fontSize":12,"fontWeight":"bold","color":"#111","align":"left","baseline":"alphabetic"},"encoding":{"x":{"datum":-0.26,"type":"quantitative","scale":{"domain":[-1,24],"nice":false,"zero":false},"axis":{"title":null,"values":[0,1,2,3,4,5,6,7,8,9,10,11,12,13,14,15,16,17,18,19,20,21,22,23],"labelExpr":"datum.value % 4 === 0 ? datum.label : ''","tickSize":-4,"labelPadding":8,"labelOverlap":false}},"y":{"datum":35.02,"type":"quantitative","scale":{"domain":[15,36.8],"nice":false,"zero":false},"axis":{"title":"Cluster temperature (°C)","values":[15,16.5,18,19.5,21,22.5,24,25.5,27,28.5,30,31.5,33,34.5,36],"labelExpr":"datum.value === 15 ? '0' : (datum.value % 3 === 0 ? datum.label : '')","tickSize":-4,"labelPadding":8,"titlePadding":20,"labelOverlap":false}}}},
{"data":{"values":[{}]},"mark":{"type":"text","text":"(DOY 156-196)","fontSize":12.3,"color":"#111","align":"left","baseline":"alphabetic"},"encoding":{"x":{"datum":9.85,"type":"quantitative","scale":{"domain":[-1,24],"nice":false,"zero":false},"axis":{"title":null,"values":[0,1,2,3,4,5,6,7,8,9,10,11,12,13,14,15,16,17,18,19,20,21,22,23],"labelExpr":"datum.value % 4 === 0 ? datum.label : ''","tickSize":-4,"labelPadding":8,"labelOverlap":false}},"y":{"datum":35.02,"type":"quantitative","scale":{"domain":[15,36.8],"nice":false,"zero":false},"axis":{"title":"Cluster temperature (°C)","values":[15,16.5,18,19.5,21,22.5,24,25.5,27,28.5,30,31.5,33,34.5,36],"labelExpr":"datum.value === 15 ? '0' : (datum.value % 3 === 0 ? datum.label : '')","tickSize":-4,"labelPadding":8,"titlePadding":20,"labelOverlap":false}}}},
{"data":{"values":[{}]},"mark":{"type":"text","text":"A","fontSize":17,"fontWeight":"bold","color":"#111","align":"center","baseline":"middle"},"encoding":{"x":{"datum":22.95,"type":"quantitative","scale":{"domain":[-1,24],"nice":false,"zero":false},"axis":{"title":null,"values":[0,1,2,3,4,5,6,7,8,9,10,11,12,13,14,15,16,17,18,19,20,21,22,23],"labelExpr":"datum.value % 4 === 0 ? datum.label : ''","tickSize":-4,"labelPadding":8,"labelOverlap":false}},"y":{"datum":35.34,"type":"quantitative","scale":{"domain":[15,36.8],"nice":false,"zero":false},"axis":{"title":"Cluster temperature (°C)","values":[15,16.5,18,19.5,21,22.5,24,25.5,27,28.5,30,31.5,33,34.5,36],"labelExpr":"datum.value === 15 ? '0' : (datum.value % 3 === 0 ? datum.label : '')","tickSize":-4,"labelPadding":8,"titlePadding":20,"labelOverlap":false}}}}
]
},
{
"width":308,"height":269,
"layer":[
{"data":{"values":[{}]},"mark":{"type":"rect","color":"#faf6c4"},"encoding":{"x":{"datum":6.3,"type":"quantitative","scale":{"domain":[-1,24],"nice":false,"zero":false},"axis":{"title":"Hour of the day","titlePadding":12,"values":[0,1,2,3,4,5,6,7,8,9,10,11,12,13,14,15,16,17,18,19,20,21,22,23],"labelExpr":"datum.value % 4 === 0 ? datum.label : ''","tickSize":-4,"labelPadding":8,"labelOverlap":false}},"x2":{"datum":20.27},"y":{"datum":15,"type":"quantitative","scale":{"domain":[15,36.8],"nice":false,"zero":false},"axis":{"title":null,"labels":false,"values":[15,16.5,18,19.5,21,22.5,24,25.5,27,28.5,30,31.5,33,34.5,36],"tickSize":-4,"labelOverlap":false}},"y2":{"datum":36.8}}},
{"data":{"values":[{}]},"mark":{"type":"rule","color":"#111","strokeWidth":1},"encoding":{"x":{"datum":7.6,"type":"quantitative","scale":{"domain":[-1,24],"nice":false,"zero":false},"axis":{"title":"Hour of the day","titlePadding":12,"values":[0,1,2,3,4,5,6,7,8,9,10,11,12,13,14,15,16,17,18,19,20,21,22,23],"labelExpr":"datum.value % 4 === 0 ? datum.label : ''","tickSize":-4,"labelPadding":8,"labelOverlap":false}},"x2":{"datum":11.4},"y":{"datum":16.95,"type":"quantitative","scale":{"domain":[15,36.8],"nice":false,"zero":false},"axis":{"title":null,"labels":false,"values":[15,16.5,18,19.5,21,22.5,24,25.5,27,28.5,30,31.5,33,34.5,36],"tickSize":-4,"labelOverlap":false}}}},
{"data":{"values":[{}]},"mark":{"type":"rule","color":"#111","strokeWidth":1},"encoding":{"x":{"datum":15.2,"type":"quantitative","scale":{"domain":[-1,24],"nice":false,"zero":false},"axis":{"title":"Hour of the day","titlePadding":12,"values":[0,1,2,3,4,5,6,7,8,9,10,11,12,13,14,15,16,17,18,19,20,21,22,23],"labelExpr":"datum.value % 4 === 0 ? datum.label : ''","tickSize":-4,"labelPadding":8,"labelOverlap":false}},"x2":{"datum":19.0},"y":{"datum":16.95,"type":"quantitative","scale":{"domain":[15,36.8],"nice":false,"zero":false},"axis":{"title":null,"labels":false,"values":[15,16.5,18,19.5,21,22.5,24,25.5,27,28.5,30,31.5,33,34.5,36],"tickSize":-4,"labelOverlap":false}}}},
{"data":{"values":[{}]},"mark":{"type":"point","shape":"triangle-left","filled":true,"color":"#111","size":30,"opacity":1},"encoding":{"x":{"datum":7.72,"type":"quantitative","scale":{"domain":[-1,24],"nice":false,"zero":false},"axis":{"title":"Hour of the day","titlePadding":12,"values":[0,1,2,3,4,5,6,7,8,9,10,11,12,13,14,15,16,17,18,19,20,21,22,23],"labelExpr":"datum.value % 4 === 0 ? datum.label : ''","tickSize":-4,"labelPadding":8,"labelOverlap":false}},"y":{"datum":16.95,"type":"quantitative","scale":{"domain":[15,36.8],"nice":false,"zero":false},"axis":{"title":null,"labels":false,"values":[15,16.5,18,19.5,21,22.5,24,25.5,27,28.5,30,31.5,33,34.5,36],"tickSize":-4,"labelOverlap":false}}}},
{"data":{"values":[{}]},"mark":{"type":"point","shape":"triangle-right","filled":true,"color":"#111","size":30,"opacity":1},"encoding":{"x":{"datum":18.88,"type":"quantitative","scale":{"domain":[-1,24],"nice":false,"zero":false},"axis":{"title":"Hour of the day","titlePadding":12,"values":[0,1,2,3,4,5,6,7,8,9,10,11,12,13,14,15,16,17,18,19,20,21,22,23],"labelExpr":"datum.value % 4 === 0 ? datum.label : ''","tickSize":-4,"labelPadding":8,"labelOverlap":false}},"y":{"datum":16.95,"type":"quantitative","scale":{"domain":[15,36.8],"nice":false,"zero":false},"axis":{"title":null,"labels":false,"values":[15,16.5,18,19.5,21,22.5,24,25.5,27,28.5,30,31.5,33,34.5,36],"tickSize":-4,"labelOverlap":false}}}},
{"data":{"values":[{}]},"mark":{"type":"text","text":"daylight","fontSize":11.5,"color":"#222","baseline":"middle"},"encoding":{"x":{"datum":13.35,"type":"quantitative","scale":{"domain":[-1,24],"nice":false,"zero":false},"axis":{"title":"Hour of the day","titlePadding":12,"values":[0,1,2,3,4,5,6,7,8,9,10,11,12,13,14,15,16,17,18,19,20,21,22,23],"labelExpr":"datum.value % 4 === 0 ? datum.label : ''","tickSize":-4,"labelPadding":8,"labelOverlap":false}},"y":{"datum":16.95,"type":"quantitative","scale":{"domain":[15,36.8],"nice":false,"zero":false},"axis":{"title":null,"labels":false,"values":[15,16.5,18,19.5,21,22.5,24,25.5,27,28.5,30,31.5,33,34.5,36],"tickSize":-4,"labelOverlap":false}}}},
{"data":{"name":"temps"},"transform":[{"filter":"datum.p === 'B'"}],"mark":{"type":"line","strokeWidth":1},
"encoding":{
"x":{"field":"h","type":"quantitative","scale":{"domain":[-1,24],"nice":false,"zero":false},"axis":{"title":"Hour of the day","titlePadding":12,"values":[0,1,2,3,4,5,6,7,8,9,10,11,12,13,14,15,16,17,18,19,20,21,22,23],"labelExpr":"datum.value % 4 === 0 ? datum.label : ''","tickSize":-4,"labelPadding":8,"labelOverlap":false}},
"y":{"field":"t","type":"quantitative","scale":{"domain":[15,36.8],"nice":false,"zero":false},"axis":{"title":null,"labels":false,"values":[15,16.5,18,19.5,21,22.5,24,25.5,27,28.5,30,31.5,33,34.5,36],"tickSize":-4,"labelOverlap":false}},
"color":{"field":"s","type":"nominal","scale":{"domain":["FI","RDI-1S","RDI-1M","RDI-LS","RDI-2S","RDI-2M"],"range":["#000000","#1b9a4a","#1b9a4a","#f03c3c","#7b3aa5","#8a4fc4"]}},
"strokeDash":{"field":"s","type":"nominal","scale":{"domain":["FI","RDI-1S","RDI-1M","RDI-LS","RDI-2S","RDI-2M"],"range":[[1,0],[1,0],[2,2],[1,0],[1,0],[2,2]]}}}},
{"data":{"name":"err"},"transform":[{"filter":"datum.p === 'B'"}],"mark":{"type":"rule","strokeWidth":1},"encoding":{
"x":{"field":"h","type":"quantitative","scale":{"domain":[-1,24],"nice":false,"zero":false},"axis":{"title":"Hour of the day","titlePadding":12,"values":[0,1,2,3,4,5,6,7,8,9,10,11,12,13,14,15,16,17,18,19,20,21,22,23],"labelExpr":"datum.value % 4 === 0 ? datum.label : ''","tickSize":-4,"labelPadding":8,"labelOverlap":false}},
"y":{"field":"t","type":"quantitative","scale":{"domain":[15,36.8],"nice":false,"zero":false},"axis":{"title":null,"labels":false,"values":[15,16.5,18,19.5,21,22.5,24,25.5,27,28.5,30,31.5,33,34.5,36],"tickSize":-4,"labelOverlap":false}},
"y2":{"field":"e"},"color":{"field":"s","type":"nominal","scale":{"domain":["FI","RDI-1S","RDI-1M","RDI-LS","RDI-2S","RDI-2M"],"range":["#000000","#1b9a4a","#1b9a4a","#f03c3c","#7b3aa5","#8a4fc4"]}}}},
{"data":{"name":"err"},"transform":[{"filter":"datum.p === 'B'"}],"mark":{"type":"tick","orient":"horizontal","size":6,"thickness":1,"opacity":1},"encoding":{
"x":{"field":"h","type":"quantitative","scale":{"domain":[-1,24],"nice":false,"zero":false},"axis":{"title":"Hour of the day","titlePadding":12,"values":[0,1,2,3,4,5,6,7,8,9,10,11,12,13,14,15,16,17,18,19,20,21,22,23],"labelExpr":"datum.value % 4 === 0 ? datum.label : ''","tickSize":-4,"labelPadding":8,"labelOverlap":false}},
"y":{"field":"e","type":"quantitative","scale":{"domain":[15,36.8],"nice":false,"zero":false},"axis":{"title":null,"labels":false,"values":[15,16.5,18,19.5,21,22.5,24,25.5,27,28.5,30,31.5,33,34.5,36],"tickSize":-4,"labelOverlap":false}},
"color":{"field":"s","type":"nominal","scale":{"domain":["FI","RDI-1S","RDI-1M","RDI-LS","RDI-2S","RDI-2M"],"range":["#000000","#1b9a4a","#1b9a4a","#f03c3c","#7b3aa5","#8a4fc4"]}}}},
{"data":{"name":"temps"},"transform":[{"filter":"datum.p === 'B'"}],"mark":{"type":"point","size":42,"strokeWidth":1.2,"opacity":1},
"encoding":{
"x":{"field":"h","type":"quantitative","scale":{"domain":[-1,24],"nice":false,"zero":false},"axis":{"title":"Hour of the day","titlePadding":12,"values":[0,1,2,3,4,5,6,7,8,9,10,11,12,13,14,15,16,17,18,19,20,21,22,23],"labelExpr":"datum.value % 4 === 0 ? datum.label : ''","tickSize":-4,"labelPadding":8,"labelOverlap":false}},
"y":{"field":"t","type":"quantitative","scale":{"domain":[15,36.8],"nice":false,"zero":false},"axis":{"title":null,"labels":false,"values":[15,16.5,18,19.5,21,22.5,24,25.5,27,28.5,30,31.5,33,34.5,36],"tickSize":-4,"labelOverlap":false}},
"shape":{"field":"s","type":"nominal","scale":{"domain":["FI","RDI-1S","RDI-1M","RDI-LS","RDI-2S","RDI-2M"],"range":["circle","diamond","diamond","circle","square","square"]}},
"fill":{"field":"s","type":"nominal","scale":{"domain":["FI","RDI-1S","RDI-1M","RDI-LS","RDI-2S","RDI-2M"],"range":["#000000","#1b9a4a","#ffffff","#ffffff","#7b3aa5","#ffffff"]}},
"stroke":{"field":"s","type":"nominal","scale":{"domain":["FI","RDI-1S","RDI-1M","RDI-LS","RDI-2S","RDI-2M"],"range":["#000000","#1b9a4a","#1b9a4a","#f03c3c","#7b3aa5","#8a4fc4"]}}}},
{"data":{"name":"stars"},"transform":[{"filter":"datum.p === 'B'"}],"mark":{"type":"text","text":"*","fontSize":13,"color":"#111","baseline":"middle","dy":3.5},"encoding":{
"x":{"field":"h","type":"quantitative","scale":{"domain":[-1,24],"nice":false,"zero":false},"axis":{"title":"Hour of the day","titlePadding":12,"values":[0,1,2,3,4,5,6,7,8,9,10,11,12,13,14,15,16,17,18,19,20,21,22,23],"labelExpr":"datum.value % 4 === 0 ? datum.label : ''","tickSize":-4,"labelPadding":8,"labelOverlap":false}},
"y":{"field":"t","type":"quantitative","scale":{"domain":[15,36.8],"nice":false,"zero":false},"axis":{"title":null,"labels":false,"values":[15,16.5,18,19.5,21,22.5,24,25.5,27,28.5,30,31.5,33,34.5,36],"tickSize":-4,"labelOverlap":false}}}},
{"data":{"values":[{}]},"mark":{"type":"text","text":"Lag phase","fontSize":12,"fontWeight":"bold","color":"#111","align":"left","baseline":"alphabetic"},"encoding":{"x":{"datum":-0.02,"type":"quantitative","scale":{"domain":[-1,24],"nice":false,"zero":false},"axis":{"title":"Hour of the day","titlePadding":12,"values":[0,1,2,3,4,5,6,7,8,9,10,11,12,13,14,15,16,17,18,19,20,21,22,23],"labelExpr":"datum.value % 4 === 0 ? datum.label : ''","tickSize":-4,"labelPadding":8,"labelOverlap":false}},"y":{"datum":35.02,"type":"quantitative","scale":{"domain":[15,36.8],"nice":false,"zero":false},"axis":{"title":null,"labels":false,"values":[15,16.5,18,19.5,21,22.5,24,25.5,27,28.5,30,31.5,33,34.5,36],"tickSize":-4,"labelOverlap":false}}}},
{"data":{"values":[{}]},"mark":{"type":"text","text":"(DOY 196-206)","fontSize":12.3,"color":"#111","align":"left","baseline":"alphabetic"},"encoding":{"x":{"datum":5.05,"type":"quantitative","scale":{"domain":[-1,24],"nice":false,"zero":false},"axis":{"title":"Hour of the day","titlePadding":12,"values":[0,1,2,3,4,5,6,7,8,9,10,11,12,13,14,15,16,17,18,19,20,21,22,23],"labelExpr":"datum.value % 4 === 0 ? datum.label : ''","tickSize":-4,"labelPadding":8,"labelOverlap":false}},"y":{"datum":35.02,"type":"quantitative","scale":{"domain":[15,36.8],"nice":false,"zero":false},"axis":{"title":null,"labels":false,"values":[15,16.5,18,19.5,21,22.5,24,25.5,27,28.5,30,31.5,33,34.5,36],"tickSize":-4,"labelOverlap":false}}}},
{"data":{"values":[{}]},"mark":{"type":"text","text":"B","fontSize":17,"fontWeight":"bold","color":"#111","align":"center","baseline":"middle"},"encoding":{"x":{"datum":22.4,"type":"quantitative","scale":{"domain":[-1,24],"nice":false,"zero":false},"axis":{"title":"Hour of the day","titlePadding":12,"values":[0,1,2,3,4,5,6,7,8,9,10,11,12,13,14,15,16,17,18,19,20,21,22,23],"labelExpr":"datum.value % 4 === 0 ? datum.label : ''","tickSize":-4,"labelPadding":8,"labelOverlap":false}},"y":{"datum":35.34,"type":"quantitative","scale":{"domain":[15,36.8],"nice":false,"zero":false},"axis":{"title":null,"labels":false,"values":[15,16.5,18,19.5,21,22.5,24,25.5,27,28.5,30,31.5,33,34.5,36],"tickSize":-4,"labelOverlap":false}}}},
{"data":{"values":[{}]},"encoding":{"y":{"datum":31.78,"type":"quantitative","scale":{"domain":[15,36.8],"nice":false,"zero":false},"axis":{"title":null,"labels":false,"values":[15,16.5,18,19.5,21,22.5,24,25.5,27,28.5,30,31.5,33,34.5,36],"tickSize":-4,"labelOverlap":false}}},"layer":[
{"mark":{"type":"rule","strokeWidth":1.2},"encoding":{"x":{"datum":0.06,"type":"quantitative","scale":{"domain":[-1,24],"nice":false,"zero":false},"axis":{"title":"Hour of the day","titlePadding":12,"values":[0,1,2,3,4,5,6,7,8,9,10,11,12,13,14,15,16,17,18,19,20,21,22,23],"labelExpr":"datum.value % 4 === 0 ? datum.label : ''","tickSize":-4,"labelPadding":8,"labelOverlap":false}},"x2":{"datum":1.68},"color":{"datum":"FI"},"strokeDash":{"datum":"FI"}}},
{"mark":{"type":"point","size":42,"strokeWidth":1.2,"opacity":1},"encoding":{"x":{"datum":1.92,"type":"quantitative","scale":{"domain":[-1,24],"nice":false,"zero":false},"axis":{"title":"Hour of the day","titlePadding":12,"values":[0,1,2,3,4,5,6,7,8,9,10,11,12,13,14,15,16,17,18,19,20,21,22,23],"labelExpr":"datum.value % 4 === 0 ? datum.label : ''","tickSize":-4,"labelPadding":8,"labelOverlap":false}},"shape":{"datum":"FI"},"fill":{"datum":"FI"},"stroke":{"datum":"FI"}}},
{"mark":{"type":"text","text":"FI","fontSize":11.5,"color":"#111","align":"left","baseline":"middle"},"encoding":{"x":{"datum":2.85,"type":"quantitative","scale":{"domain":[-1,24],"nice":false,"zero":false},"axis":{"title":"Hour of the day","titlePadding":12,"values":[0,1,2,3,4,5,6,7,8,9,10,11,12,13,14,15,16,17,18,19,20,21,22,23],"labelExpr":"datum.value % 4 === 0 ? datum.label : ''","tickSize":-4,"labelPadding":8,"labelOverlap":false}}}}
]},
{"data":{"values":[{}]},"encoding":{"y":{"datum":30.69,"type":"quantitative","scale":{"domain":[15,36.8],"nice":false,"zero":false},"axis":{"title":null,"labels":false,"values":[15,16.5,18,19.5,21,22.5,24,25.5,27,28.5,30,31.5,33,34.5,36],"tickSize":-4,"labelOverlap":false}}},"layer":[
{"mark":{"type":"rule","strokeWidth":1.2},"encoding":{"x":{"datum":0.06,"type":"quantitative","scale":{"domain":[-1,24],"nice":false,"zero":false},"axis":{"title":"Hour of the day","titlePadding":12,"values":[0,1,2,3,4,5,6,7,8,9,10,11,12,13,14,15,16,17,18,19,20,21,22,23],"labelExpr":"datum.value % 4 === 0 ? datum.label : ''","tickSize":-4,"labelPadding":8,"labelOverlap":false}},"x2":{"datum":1.68},"color":{"datum":"RDI-1S"},"strokeDash":{"datum":"RDI-1S"}}},
{"mark":{"type":"point","size":42,"strokeWidth":1.2,"opacity":1},"encoding":{"x":{"datum":1.92,"type":"quantitative","scale":{"domain":[-1,24],"nice":false,"zero":false},"axis":{"title":"Hour of the day","titlePadding":12,"values":[0,1,2,3,4,5,6,7,8,9,10,11,12,13,14,15,16,17,18,19,20,21,22,23],"labelExpr":"datum.value % 4 === 0 ? datum.label : ''","tickSize":-4,"labelPadding":8,"labelOverlap":false}},"shape":{"datum":"RDI-1S"},"fill":{"datum":"RDI-1S"},"stroke":{"datum":"RDI-1S"}}},
{"mark":{"type":"text","text":"RDI-1S","fontSize":11.5,"color":"#111","align":"left","baseline":"middle"},"encoding":{"x":{"datum":2.85,"type":"quantitative","scale":{"domain":[-1,24],"nice":false,"zero":false},"axis":{"title":"Hour of the day","titlePadding":12,"values":[0,1,2,3,4,5,6,7,8,9,10,11,12,13,14,15,16,17,18,19,20,21,22,23],"labelExpr":"datum.value % 4 === 0 ? datum.label : ''","tickSize":-4,"labelPadding":8,"labelOverlap":false}}}}
]},
{"data":{"values":[{}]},"encoding":{"y":{"datum":29.6,"type":"quantitative","scale":{"domain":[15,36.8],"nice":false,"zero":false},"axis":{"title":null,"labels":false,"values":[15,16.5,18,19.5,21,22.5,24,25.5,27,28.5,30,31.5,33,34.5,36],"tickSize":-4,"labelOverlap":false}}},"layer":[
{"mark":{"type":"rule","strokeWidth":1.2},"encoding":{"x":{"datum":0.06,"type":"quantitative","scale":{"domain":[-1,24],"nice":false,"zero":false},"axis":{"title":"Hour of the day","titlePadding":12,"values":[0,1,2,3,4,5,6,7,8,9,10,11,12,13,14,15,16,17,18,19,20,21,22,23],"labelExpr":"datum.value % 4 === 0 ? datum.label : ''","tickSize":-4,"labelPadding":8,"labelOverlap":false}},"x2":{"datum":1.68},"color":{"datum":"RDI-1M"},"strokeDash":{"datum":"RDI-1M"}}},
{"mark":{"type":"point","size":42,"strokeWidth":1.2,"opacity":1},"encoding":{"x":{"datum":1.92,"type":"quantitative","scale":{"domain":[-1,24],"nice":false,"zero":false},"axis":{"title":"Hour of the day","titlePadding":12,"values":[0,1,2,3,4,5,6,7,8,9,10,11,12,13,14,15,16,17,18,19,20,21,22,23],"labelExpr":"datum.value % 4 === 0 ? datum.label : ''","tickSize":-4,"labelPadding":8,"labelOverlap":false}},"shape":{"datum":"RDI-1M"},"fill":{"datum":"RDI-1M"},"stroke":{"datum":"RDI-1M"}}},
{"mark":{"type":"text","text":"RDI-1M","fontSize":11.5,"color":"#111","align":"left","baseline":"middle"},"encoding":{"x":{"datum":2.85,"type":"quantitative","scale":{"domain":[-1,24],"nice":false,"zero":false},"axis":{"title":"Hour of the day","titlePadding":12,"values":[0,1,2,3,4,5,6,7,8,9,10,11,12,13,14,15,16,17,18,19,20,21,22,23],"labelExpr":"datum.value % 4 === 0 ? datum.label : ''","tickSize":-4,"labelPadding":8,"labelOverlap":false}}}}
]},
{"data":{"values":[{}]},"encoding":{"y":{"datum":28.52,"type":"quantitative","scale":{"domain":[15,36.8],"nice":false,"zero":false},"axis":{"title":null,"labels":false,"values":[15,16.5,18,19.5,21,22.5,24,25.5,27,28.5,30,31.5,33,34.5,36],"tickSize":-4,"labelOverlap":false}}},"layer":[
{"mark":{"type":"rule","strokeWidth":1.2},"encoding":{"x":{"datum":0.06,"type":"quantitative","scale":{"domain":[-1,24],"nice":false,"zero":false},"axis":{"title":"Hour of the day","titlePadding":12,"values":[0,1,2,3,4,5,6,7,8,9,10,11,12,13,14,15,16,17,18,19,20,21,22,23],"labelExpr":"datum.value % 4 === 0 ? datum.label : ''","tickSize":-4,"labelPadding":8,"labelOverlap":false}},"x2":{"datum":1.68},"color":{"datum":"RDI-LS"},"strokeDash":{"datum":"RDI-LS"}}},
{"mark":{"type":"point","size":42,"strokeWidth":1.2,"opacity":1},"encoding":{"x":{"datum":1.92,"type":"quantitative","scale":{"domain":[-1,24],"nice":false,"zero":false},"axis":{"title":"Hour of the day","titlePadding":12,"values":[0,1,2,3,4,5,6,7,8,9,10,11,12,13,14,15,16,17,18,19,20,21,22,23],"labelExpr":"datum.value % 4 === 0 ? datum.label : ''","tickSize":-4,"labelPadding":8,"labelOverlap":false}},"shape":{"datum":"RDI-LS"},"fill":{"datum":"RDI-LS"},"stroke":{"datum":"RDI-LS"}}},
{"mark":{"type":"text","text":"RDI-LS","fontSize":11.5,"color":"#111","align":"left","baseline":"middle"},"encoding":{"x":{"datum":2.85,"type":"quantitative","scale":{"domain":[-1,24],"nice":false,"zero":false},"axis":{"title":"Hour of the day","titlePadding":12,"values":[0,1,2,3,4,5,6,7,8,9,10,11,12,13,14,15,16,17,18,19,20,21,22,23],"labelExpr":"datum.value % 4 === 0 ? datum.label : ''","tickSize":-4,"labelPadding":8,"labelOverlap":false}}}}
]},
{"data":{"values":[{}]},"encoding":{"y":{"datum":27.43,"type":"quantitative","scale":{"domain":[15,36.8],"nice":false,"zero":false},"axis":{"title":null,"labels":false,"values":[15,16.5,18,19.5,21,22.5,24,25.5,27,28.5,30,31.5,33,34.5,36],"tickSize":-4,"labelOverlap":false}}},"layer":[
{"mark":{"type":"rule","strokeWidth":1.2},"encoding":{"x":{"datum":0.06,"type":"quantitative","scale":{"domain":[-1,24],"nice":false,"zero":false},"axis":{"title":"Hour of the day","titlePadding":12,"values":[0,1,2,3,4,5,6,7,8,9,10,11,12,13,14,15,16,17,18,19,20,21,22,23],"labelExpr":"datum.value % 4 === 0 ? datum.label : ''","tickSize":-4,"labelPadding":8,"labelOverlap":false}},"x2":{"datum":1.68},"color":{"datum":"RDI-2S"},"strokeDash":{"datum":"RDI-2S"}}},
{"mark":{"type":"point","size":42,"strokeWidth":1.2,"opacity":1},"encoding":{"x":{"datum":1.92,"type":"quantitative","scale":{"domain":[-1,24],"nice":false,"zero":false},"axis":{"title":"Hour of the day","titlePadding":12,"values":[0,1,2,3,4,5,6,7,8,9,10,11,12,13,14,15,16,17,18,19,20,21,22,23],"labelExpr":"datum.value % 4 === 0 ? datum.label : ''","tickSize":-4,"labelPadding":8,"labelOverlap":false}},"shape":{"datum":"RDI-2S"},"fill":{"datum":"RDI-2S"},"stroke":{"datum":"RDI-2S"}}},
{"mark":{"type":"text","text":"RDI-2S","fontSize":11.5,"color":"#111","align":"left","baseline":"middle"},"encoding":{"x":{"datum":2.85,"type":"quantitative","scale":{"domain":[-1,24],"nice":false,"zero":false},"axis":{"title":"Hour of the day","titlePadding":12,"values":[0,1,2,3,4,5,6,7,8,9,10,11,12,13,14,15,16,17,18,19,20,21,22,23],"labelExpr":"datum.value % 4 === 0 ? datum.label : ''","tickSize":-4,"labelPadding":8,"labelOverlap":false}}}}
]},
{"data":{"values":[{}]},"encoding":{"y":{"datum":26.35,"type":"quantitative","scale":{"domain":[15,36.8],"nice":false,"zero":false},"axis":{"title":null,"labels":false,"values":[15,16.5,18,19.5,21,22.5,24,25.5,27,28.5,30,31.5,33,34.5,36],"tickSize":-4,"labelOverlap":false}}},"layer":[
{"mark":{"type":"rule","strokeWidth":1.2},"encoding":{"x":{"datum":0.06,"type":"quantitative","scale":{"domain":[-1,24],"nice":false,"zero":false},"axis":{"title":"Hour of the day","titlePadding":12,"values":[0,1,2,3,4,5,6,7,8,9,10,11,12,13,14,15,16,17,18,19,20,21,22,23],"labelExpr":"datum.value % 4 === 0 ? datum.label : ''","tickSize":-4,"labelPadding":8,"labelOverlap":false}},"x2":{"datum":1.68},"color":{"datum":"RDI-2M"},"strokeDash":{"datum":"RDI-2M"}}},
{"mark":{"type":"point","size":42,"strokeWidth":1.2,"opacity":1},"encoding":{"x":{"datum":1.92,"type":"quantitative","scale":{"domain":[-1,24],"nice":false,"zero":false},"axis":{"title":"Hour of the day","titlePadding":12,"values":[0,1,2,3,4,5,6,7,8,9,10,11,12,13,14,15,16,17,18,19,20,21,22,23],"labelExpr":"datum.value % 4 === 0 ? datum.label : ''","tickSize":-4,"labelPadding":8,"labelOverlap":false}},"shape":{"datum":"RDI-2M"},"fill":{"datum":"RDI-2M"},"stroke":{"datum":"RDI-2M"}}},
{"mark":{"type":"text","text":"RDI-2M","fontSize":11.5,"color":"#111","align":"left","baseline":"middle"},"encoding":{"x":{"datum":2.85,"type":"quantitative","scale":{"domain":[-1,24],"nice":false,"zero":false},"axis":{"title":"Hour of the day","titlePadding":12,"values":[0,1,2,3,4,5,6,7,8,9,10,11,12,13,14,15,16,17,18,19,20,21,22,23],"labelExpr":"datum.value % 4 === 0 ? datum.label : ''","tickSize":-4,"labelPadding":8,"labelOverlap":false}}}}
]}
]
},
{
"width":298,"height":269,
"layer":[
{"data":{"values":[{}]},"mark":{"type":"rect","color":"#faf6c4"},"encoding":{"x":{"datum":6.45,"type":"quantitative","scale":{"domain":[-1,23.23],"nice":false,"zero":false},"axis":{"title":null,"values":[0,1,2,3,4,5,6,7,8,9,10,11,12,13,14,15,16,17,18,19,20,21,22,23],"labelExpr":"datum.value % 4 === 0 ? datum.label : ''","tickSize":-4,"labelPadding":8,"labelOverlap":false}},"x2":{"datum":20.06},"y":{"datum":15,"type":"quantitative","scale":{"domain":[15,36.8],"nice":false,"zero":false},"axis":{"title":null,"labels":false,"values":[15,16.5,18,19.5,21,22.5,24,25.5,27,28.5,30,31.5,33,34.5,36],"tickSize":-4,"labelOverlap":false}},"y2":{"datum":36.8}}},
{"data":{"values":[{}]},"mark":{"type":"rule","color":"#111","strokeWidth":1},"encoding":{"x":{"datum":7.6,"type":"quantitative","scale":{"domain":[-1,23.23],"nice":false,"zero":false},"axis":{"title":null,"values":[0,1,2,3,4,5,6,7,8,9,10,11,12,13,14,15,16,17,18,19,20,21,22,23],"labelExpr":"datum.value % 4 === 0 ? datum.label : ''","tickSize":-4,"labelPadding":8,"labelOverlap":false}},"x2":{"datum":11.4},"y":{"datum":16.95,"type":"quantitative","scale":{"domain":[15,36.8],"nice":false,"zero":false},"axis":{"title":null,"labels":false,"values":[15,16.5,18,19.5,21,22.5,24,25.5,27,28.5,30,31.5,33,34.5,36],"tickSize":-4,"labelOverlap":false}}}},
{"data":{"values":[{}]},"mark":{"type":"rule","color":"#111","strokeWidth":1},"encoding":{"x":{"datum":15.2,"type":"quantitative","scale":{"domain":[-1,23.23],"nice":false,"zero":false},"axis":{"title":null,"values":[0,1,2,3,4,5,6,7,8,9,10,11,12,13,14,15,16,17,18,19,20,21,22,23],"labelExpr":"datum.value % 4 === 0 ? datum.label : ''","tickSize":-4,"labelPadding":8,"labelOverlap":false}},"x2":{"datum":19.0},"y":{"datum":16.95,"type":"quantitative","scale":{"domain":[15,36.8],"nice":false,"zero":false},"axis":{"title":null,"labels":false,"values":[15,16.5,18,19.5,21,22.5,24,25.5,27,28.5,30,31.5,33,34.5,36],"tickSize":-4,"labelOverlap":false}}}},
{"data":{"values":[{}]},"mark":{"type":"point","shape":"triangle-left","filled":true,"color":"#111","size":30,"opacity":1},"encoding":{"x":{"datum":7.72,"type":"quantitative","scale":{"domain":[-1,23.23],"nice":false,"zero":false},"axis":{"title":null,"values":[0,1,2,3,4,5,6,7,8,9,10,11,12,13,14,15,16,17,18,19,20,21,22,23],"labelExpr":"datum.value % 4 === 0 ? datum.label : ''","tickSize":-4,"labelPadding":8,"labelOverlap":false}},"y":{"datum":16.95,"type":"quantitative","scale":{"domain":[15,36.8],"nice":false,"zero":false},"axis":{"title":null,"labels":false,"values":[15,16.5,18,19.5,21,22.5,24,25.5,27,28.5,30,31.5,33,34.5,36],"tickSize":-4,"labelOverlap":false}}}},
{"data":{"values":[{}]},"mark":{"type":"point","shape":"triangle-right","filled":true,"color":"#111","size":30,"opacity":1},"encoding":{"x":{"datum":18.88,"type":"quantitative","scale":{"domain":[-1,23.23],"nice":false,"zero":false},"axis":{"title":null,"values":[0,1,2,3,4,5,6,7,8,9,10,11,12,13,14,15,16,17,18,19,20,21,22,23],"labelExpr":"datum.value % 4 === 0 ? datum.label : ''","tickSize":-4,"labelPadding":8,"labelOverlap":false}},"y":{"datum":16.95,"type":"quantitative","scale":{"domain":[15,36.8],"nice":false,"zero":false},"axis":{"title":null,"labels":false,"values":[15,16.5,18,19.5,21,22.5,24,25.5,27,28.5,30,31.5,33,34.5,36],"tickSize":-4,"labelOverlap":false}}}},
{"data":{"values":[{}]},"mark":{"type":"text","text":"daylight","fontSize":11.5,"color":"#222","baseline":"middle"},"encoding":{"x":{"datum":13.3,"type":"quantitative","scale":{"domain":[-1,23.23],"nice":false,"zero":false},"axis":{"title":null,"values":[0,1,2,3,4,5,6,7,8,9,10,11,12,13,14,15,16,17,18,19,20,21,22,23],"labelExpr":"datum.value % 4 === 0 ? datum.label : ''","tickSize":-4,"labelPadding":8,"labelOverlap":false}},"y":{"datum":16.95,"type":"quantitative","scale":{"domain":[15,36.8],"nice":false,"zero":false},"axis":{"title":null,"labels":false,"values":[15,16.5,18,19.5,21,22.5,24,25.5,27,28.5,30,31.5,33,34.5,36],"tickSize":-4,"labelOverlap":false}}}},
{"data":{"name":"temps"},"transform":[{"filter":"datum.p === 'C'"}],"mark":{"type":"line","strokeWidth":1},
"encoding":{
"x":{"field":"h","type":"quantitative","scale":{"domain":[-1,23.23],"nice":false,"zero":false},"axis":{"title":null,"values":[0,1,2,3,4,5,6,7,8,9,10,11,12,13,14,15,16,17,18,19,20,21,22,23],"labelExpr":"datum.value % 4 === 0 ? datum.label : ''","tickSize":-4,"labelPadding":8,"labelOverlap":false}},
"y":{"field":"t","type":"quantitative","scale":{"domain":[15,36.8],"nice":false,"zero":false},"axis":{"title":null,"labels":false,"values":[15,16.5,18,19.5,21,22.5,24,25.5,27,28.5,30,31.5,33,34.5,36],"tickSize":-4,"labelOverlap":false}},
"color":{"field":"s","type":"nominal","scale":{"domain":["FI","RDI-1S","RDI-1M","RDI-LS","RDI-2S","RDI-2M"],"range":["#000000","#1b9a4a","#1b9a4a","#f03c3c","#7b3aa5","#8a4fc4"]}},
"strokeDash":{"field":"s","type":"nominal","scale":{"domain":["FI","RDI-1S","RDI-1M","RDI-LS","RDI-2S","RDI-2M"],"range":[[1,0],[1,0],[2,2],[1,0],[1,0],[2,2]]}}}},
{"data":{"name":"err"},"transform":[{"filter":"datum.p === 'C'"}],"mark":{"type":"rule","strokeWidth":1},"encoding":{
"x":{"field":"h","type":"quantitative","scale":{"domain":[-1,23.23],"nice":false,"zero":false},"axis":{"title":null,"values":[0,1,2,3,4,5,6,7,8,9,10,11,12,13,14,15,16,17,18,19,20,21,22,23],"labelExpr":"datum.value % 4 === 0 ? datum.label : ''","tickSize":-4,"labelPadding":8,"labelOverlap":false}},
"y":{"field":"t","type":"quantitative","scale":{"domain":[15,36.8],"nice":false,"zero":false},"axis":{"title":null,"labels":false,"values":[15,16.5,18,19.5,21,22.5,24,25.5,27,28.5,30,31.5,33,34.5,36],"tickSize":-4,"labelOverlap":false}},
"y2":{"field":"e"},"color":{"field":"s","type":"nominal","scale":{"domain":["FI","RDI-1S","RDI-1M","RDI-LS","RDI-2S","RDI-2M"],"range":["#000000","#1b9a4a","#1b9a4a","#f03c3c","#7b3aa5","#8a4fc4"]}}}},
{"data":{"name":"err"},"transform":[{"filter":"datum.p === 'C'"}],"mark":{"type":"tick","orient":"horizontal","size":6,"thickness":1,"opacity":1},"encoding":{
"x":{"field":"h","type":"quantitative","scale":{"domain":[-1,23.23],"nice":false,"zero":false},"axis":{"title":null,"values":[0,1,2,3,4,5,6,7,8,9,10,11,12,13,14,15,16,17,18,19,20,21,22,23],"labelExpr":"datum.value % 4 === 0 ? datum.label : ''","tickSize":-4,"labelPadding":8,"labelOverlap":false}},
"y":{"field":"e","type":"quantitative","scale":{"domain":[15,36.8],"nice":false,"zero":false},"axis":{"title":null,"labels":false,"values":[15,16.5,18,19.5,21,22.5,24,25.5,27,28.5,30,31.5,33,34.5,36],"tickSize":-4,"labelOverlap":false}},
"color":{"field":"s","type":"nominal","scale":{"domain":["FI","RDI-1S","RDI-1M","RDI-LS","RDI-2S","RDI-2M"],"range":["#000000","#1b9a4a","#1b9a4a","#f03c3c","#7b3aa5","#8a4fc4"]}}}},
{"data":{"name":"temps"},"transform":[{"filter":"datum.p === 'C'"}],"mark":{"type":"point","size":42,"strokeWidth":1.2,"opacity":1},
"encoding":{
"x":{"field":"h","type":"quantitative","scale":{"domain":[-1,23.23],"nice":false,"zero":false},"axis":{"title":null,"values":[0,1,2,3,4,5,6,7,8,9,10,11,12,13,14,15,16,17,18,19,20,21,22,23],"labelExpr":"datum.value % 4 === 0 ? datum.label : ''","tickSize":-4,"labelPadding":8,"labelOverlap":false}},
"y":{"field":"t","type":"quantitative","scale":{"domain":[15,36.8],"nice":false,"zero":false},"axis":{"title":null,"labels":false,"values":[15,16.5,18,19.5,21,22.5,24,25.5,27,28.5,30,31.5,33,34.5,36],"tickSize":-4,"labelOverlap":false}},
"shape":{"field":"s","type":"nominal","scale":{"domain":["FI","RDI-1S","RDI-1M","RDI-LS","RDI-2S","RDI-2M"],"range":["circle","diamond","diamond","circle","square","square"]}},
"fill":{"field":"s","type":"nominal","scale":{"domain":["FI","RDI-1S","RDI-1M","RDI-LS","RDI-2S","RDI-2M"],"range":["#000000","#1b9a4a","#ffffff","#ffffff","#7b3aa5","#ffffff"]}},
"stroke":{"field":"s","type":"nominal","scale":{"domain":["FI","RDI-1S","RDI-1M","RDI-LS","RDI-2S","RDI-2M"],"range":["#000000","#1b9a4a","#1b9a4a","#f03c3c","#7b3aa5","#8a4fc4"]}}}},
{"data":{"name":"stars"},"transform":[{"filter":"datum.p === 'C'"}],"mark":{"type":"text","text":"*","fontSize":13,"color":"#111","baseline":"middle","dy":3.5},"encoding":{
"x":{"field":"h","type":"quantitative","scale":{"domain":[-1,23.23],"nice":false,"zero":false},"axis":{"title":null,"values":[0,1,2,3,4,5,6,7,8,9,10,11,12,13,14,15,16,17,18,19,20,21,22,23],"labelExpr":"datum.value % 4 === 0 ? datum.label : ''","tickSize":-4,"labelPadding":8,"labelOverlap":false}},
"y":{"field":"t","type":"quantitative","scale":{"domain":[15,36.8],"nice":false,"zero":false},"axis":{"title":null,"labels":false,"values":[15,16.5,18,19.5,21,22.5,24,25.5,27,28.5,30,31.5,33,34.5,36],"tickSize":-4,"labelOverlap":false}}}},
{"data":{"values":[{}]},"mark":{"type":"text","text":"Veraison – Harvest","fontSize":12,"fontWeight":"bold","color":"#111","align":"left","baseline":"alphabetic"},"encoding":{"x":{"datum":-0.02,"type":"quantitative","scale":{"domain":[-1,23.23],"nice":false,"zero":false},"axis":{"title":null,"values":[0,1,2,3,4,5,6,7,8,9,10,11,12,13,14,15,16,17,18,19,20,21,22,23],"labelExpr":"datum.value % 4 === 0 ? datum.label : ''","tickSize":-4,"labelPadding":8,"labelOverlap":false}},"y":{"datum":35.02,"type":"quantitative","scale":{"domain":[15,36.8],"nice":false,"zero":false},"axis":{"title":null,"labels":false,"values":[15,16.5,18,19.5,21,22.5,24,25.5,27,28.5,30,31.5,33,34.5,36],"tickSize":-4,"labelOverlap":false}}}},
{"data":{"values":[{}]},"mark":{"type":"text","text":"(DOY 206-252)","fontSize":12.3,"color":"#111","align":"left","baseline":"alphabetic"},"encoding":{"x":{"datum":9.35,"type":"quantitative","scale":{"domain":[-1,23.23],"nice":false,"zero":false},"axis":{"title":null,"values":[0,1,2,3,4,5,6,7,8,9,10,11,12,13,14,15,16,17,18,19,20,21,22,23],"labelExpr":"datum.value % 4 === 0 ? datum.label : ''","tickSize":-4,"labelPadding":8,"labelOverlap":false}},"y":{"datum":35.02,"type":"quantitative","scale":{"domain":[15,36.8],"nice":false,"zero":false},"axis":{"title":null,"labels":false,"values":[15,16.5,18,19.5,21,22.5,24,25.5,27,28.5,30,31.5,33,34.5,36],"tickSize":-4,"labelOverlap":false}}}},
{"data":{"values":[{}]},"mark":{"type":"text","text":"C","fontSize":17,"fontWeight":"bold","color":"#111","align":"center","baseline":"middle"},"encoding":{"x":{"datum":22.45,"type":"quantitative","scale":{"domain":[-1,23.23],"nice":false,"zero":false},"axis":{"title":null,"values":[0,1,2,3,4,5,6,7,8,9,10,11,12,13,14,15,16,17,18,19,20,21,22,23],"labelExpr":"datum.value % 4 === 0 ? datum.label : ''","tickSize":-4,"labelPadding":8,"labelOverlap":false}},"y":{"datum":35.34,"type":"quantitative","scale":{"domain":[15,36.8],"nice":false,"zero":false},"axis":{"title":null,"labels":false,"values":[15,16.5,18,19.5,21,22.5,24,25.5,27,28.5,30,31.5,33,34.5,36],"tickSize":-4,"labelOverlap":false}}}}
]
}
]
}
